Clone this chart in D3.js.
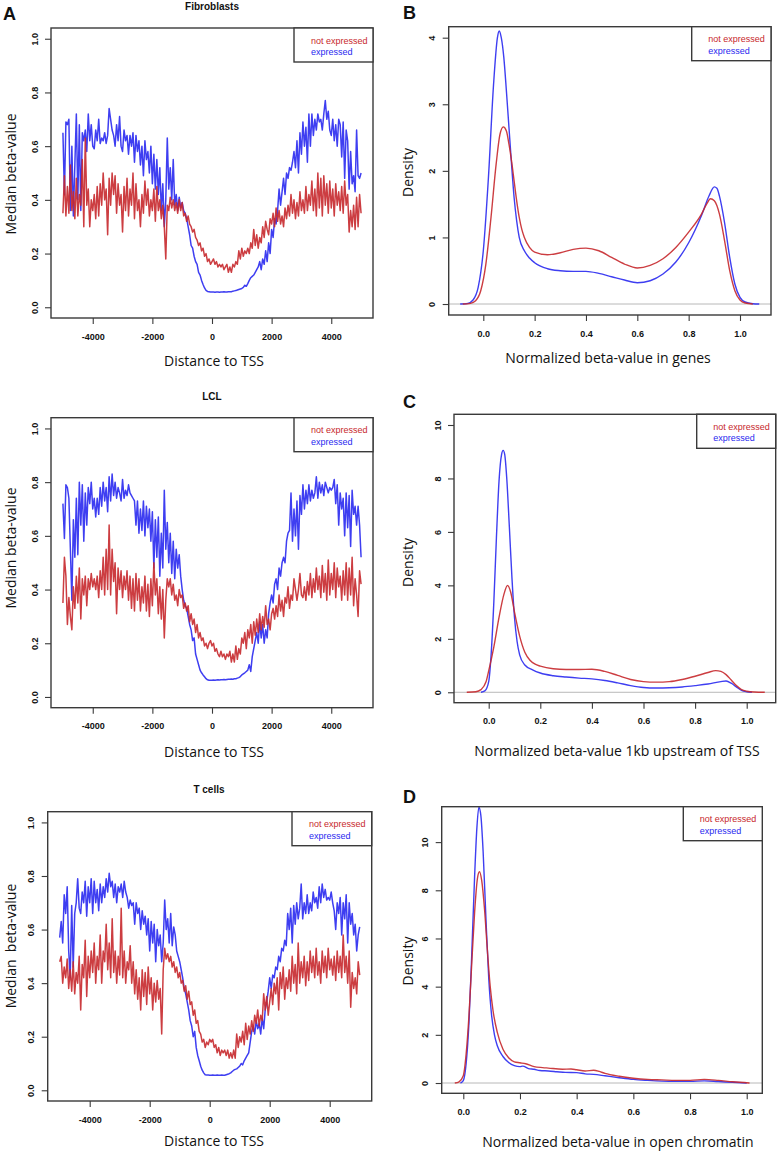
<!DOCTYPE html>
<html><head><meta charset="utf-8">
<script src="https://cdn.jsdelivr.net/npm/d3@7"></script>
<style>body{margin:0;background:#fff}svg{display:block}</style>
</head><body>
<svg id="c" width="778" height="1151"></svg>
<script>
// ---------- DATA ----------
const tssPositions = d3.range(-5000, 5001, 50);

const fibExpressed = [
0.65,0.42,0.69,0.68,0.70,0.36,0.60,0.34,0.53,0.72,
0.40,0.68,0.36,0.65,0.62,0.66,0.58,0.72,0.62,0.68,
0.60,0.59,0.66,0.62,0.70,0.61,0.63,0.62,0.65,0.61,
0.64,0.74,0.70,0.66,0.64,0.60,0.68,0.62,0.71,0.60,
0.58,0.66,0.62,0.64,0.57,0.64,0.60,0.65,0.54,0.64,
0.58,0.62,0.53,0.60,0.49,0.62,0.55,0.58,0.50,0.60,
0.46,0.57,0.44,0.55,0.42,0.52,0.36,0.46,0.30,0.40,
0.63,0.44,0.52,0.40,0.55,0.38,0.42,0.36,0.41,0.37,
0.39,0.36,0.35,0.33,0.30,0.27,0.23,0.22,0.19,0.17,
0.16,0.13,0.12,0.10,0.085,0.072,0.063,0.059,0.058,0.057,
0.057,0.057,0.056,0.057,0.057,0.056,0.057,0.057,0.058,0.057,
0.057,0.058,0.058,0.058,0.060,0.061,0.062,0.064,0.066,0.068,
0.070,0.074,0.082,0.078,0.088,0.10,0.11,0.115,0.12,0.13,
0.14,0.15,0.17,0.14,0.18,0.16,0.21,0.17,0.24,0.20,
0.29,0.26,0.33,0.31,0.36,0.44,0.38,0.43,0.48,0.42,
0.50,0.48,0.52,0.51,0.54,0.58,0.52,0.62,0.50,0.65,
0.57,0.69,0.60,0.67,0.54,0.72,0.60,0.72,0.64,0.70,
0.66,0.72,0.69,0.70,0.66,0.72,0.77,0.70,0.73,0.66,
0.64,0.70,0.62,0.68,0.60,0.70,0.68,0.56,0.69,0.48,
0.66,0.62,0.44,0.58,0.46,0.49,0.43,0.66,0.49,0.48,
0.50];
const fibNotExpressed = [
0.35,0.49,0.34,0.45,0.35,0.53,0.36,0.43,0.33,0.48,
0.34,0.42,0.38,0.55,0.30,0.63,0.38,0.44,0.30,0.40,
0.36,0.42,0.33,0.45,0.34,0.46,0.38,0.50,0.40,0.44,
0.27,0.48,0.38,0.50,0.42,0.49,0.35,0.46,0.38,0.42,
0.28,0.45,0.36,0.48,0.34,0.44,0.38,0.50,0.33,0.46,
0.36,0.40,0.30,0.42,0.35,0.47,0.38,0.44,0.34,0.40,
0.36,0.44,0.32,0.45,0.36,0.40,0.33,0.38,0.30,0.18,
0.38,0.36,0.41,0.37,0.40,0.36,0.39,0.35,0.40,0.36,
0.39,0.34,0.35,0.32,0.34,0.31,0.30,0.28,0.29,0.26,
0.25,0.23,0.24,0.21,0.22,0.19,0.20,0.17,0.18,0.16,
0.17,0.18,0.16,0.17,0.15,0.16,0.15,0.16,0.14,0.15,
0.16,0.13,0.15,0.13,0.16,0.15,0.17,0.16,0.21,0.18,
0.22,0.19,0.21,0.20,0.22,0.20,0.24,0.22,0.29,0.23,
0.27,0.22,0.26,0.24,0.30,0.26,0.32,0.29,0.27,0.33,
0.31,0.35,0.30,0.37,0.32,0.36,0.31,0.34,0.30,0.37,
0.33,0.38,0.34,0.42,0.35,0.40,0.33,0.39,0.34,0.43,
0.36,0.40,0.35,0.45,0.36,0.42,0.38,0.47,0.36,0.44,
0.34,0.50,0.37,0.48,0.34,0.49,0.38,0.46,0.35,0.47,
0.37,0.44,0.34,0.46,0.38,0.43,0.36,0.45,0.35,0.47,
0.38,0.42,0.28,0.36,0.30,0.38,0.29,0.41,0.30,0.42,
0.35];
const lclExpressed = [
0.72,0.59,0.79,0.78,0.74,0.55,0.36,0.66,0.52,0.74,
0.53,0.80,0.64,0.79,0.58,0.76,0.64,0.78,0.72,0.80,
0.70,0.74,0.67,0.74,0.68,0.78,0.71,0.80,0.73,0.78,
0.69,0.82,0.73,0.83,0.75,0.80,0.74,0.78,0.76,0.73,
0.81,0.74,0.77,0.75,0.79,0.76,0.75,0.74,0.73,0.64,
0.73,0.61,0.70,0.62,0.73,0.60,0.71,0.63,0.70,0.58,
0.69,0.48,0.66,0.52,0.67,0.45,0.61,0.48,0.77,0.55,
0.65,0.50,0.61,0.46,0.58,0.44,0.55,0.48,0.53,0.45,
0.40,0.36,0.34,0.33,0.30,0.27,0.25,0.21,0.22,0.16,
0.14,0.12,0.10,0.09,0.082,0.075,0.068,0.064,0.062,0.062,
0.062,0.063,0.062,0.063,0.064,0.063,0.064,0.064,0.065,0.064,
0.065,0.066,0.066,0.067,0.066,0.068,0.068,0.070,0.072,0.076,
0.082,0.086,0.090,0.095,0.10,0.12,0.095,0.15,0.18,0.21,
0.24,0.20,0.28,0.22,0.27,0.20,0.25,0.22,0.31,0.35,
0.38,0.35,0.42,0.44,0.40,0.48,0.45,0.50,0.52,0.50,
0.58,0.61,0.62,0.76,0.58,0.70,0.60,0.73,0.55,0.75,
0.68,0.79,0.70,0.77,0.72,0.79,0.73,0.77,0.74,0.76,
0.82,0.74,0.80,0.76,0.79,0.75,0.80,0.78,0.76,0.78,
0.77,0.78,0.81,0.72,0.79,0.64,0.76,0.70,0.74,0.60,
0.76,0.63,0.75,0.56,0.77,0.68,0.71,0.64,0.71,0.64,
0.52];
const lclNotExpressed = [
0.35,0.52,0.45,0.27,0.37,0.30,0.25,0.41,0.33,0.45,
0.35,0.48,0.29,0.44,0.38,0.45,0.34,0.44,0.40,0.46,
0.41,0.44,0.40,0.45,0.37,0.47,0.40,0.52,0.38,0.55,
0.40,0.64,0.38,0.55,0.43,0.50,0.31,0.48,0.40,0.47,
0.37,0.45,0.40,0.47,0.36,0.45,0.33,0.44,0.32,0.46,
0.36,0.44,0.32,0.41,0.35,0.45,0.32,0.42,0.30,0.44,
0.34,0.50,0.38,0.44,0.31,0.41,0.29,0.40,0.22,0.36,
0.44,0.41,0.44,0.38,0.42,0.36,0.38,0.34,0.40,0.37,
0.38,0.33,0.35,0.32,0.34,0.28,0.31,0.27,0.29,0.24,
0.27,0.22,0.24,0.21,0.22,0.19,0.20,0.18,0.20,0.21,
0.19,0.20,0.17,0.18,0.16,0.15,0.17,0.15,0.16,0.14,
0.16,0.15,0.17,0.13,0.16,0.13,0.19,0.14,0.18,0.16,
0.22,0.20,0.24,0.18,0.25,0.22,0.27,0.20,0.28,0.23,
0.29,0.24,0.31,0.25,0.30,0.26,0.34,0.27,0.29,0.25,
0.31,0.33,0.29,0.34,0.30,0.38,0.32,0.36,0.30,0.37,
0.35,0.41,0.33,0.38,0.36,0.44,0.40,0.36,0.40,0.46,
0.38,0.37,0.41,0.36,0.43,0.38,0.46,0.37,0.44,0.39,
0.48,0.40,0.45,0.37,0.49,0.39,0.46,0.36,0.51,0.38,
0.46,0.40,0.50,0.37,0.48,0.41,0.45,0.36,0.47,0.38,
0.50,0.36,0.48,0.38,0.52,0.34,0.44,0.38,0.30,0.47,
0.42];
const tcellExpressed = [
0.57,0.63,0.55,0.73,0.66,0.76,0.52,0.42,0.69,0.46,
0.66,0.70,0.79,0.68,0.66,0.74,0.70,0.78,0.65,0.76,
0.70,0.79,0.66,0.78,0.70,0.75,0.67,0.77,0.70,0.76,
0.72,0.79,0.74,0.81,0.76,0.78,0.72,0.77,0.70,0.76,
0.74,0.77,0.72,0.78,0.74,0.72,0.68,0.71,0.69,0.70,
0.62,0.70,0.66,0.68,0.60,0.67,0.62,0.65,0.58,0.64,
0.52,0.63,0.55,0.62,0.48,0.60,0.54,0.58,0.48,0.55,
0.71,0.60,0.64,0.55,0.66,0.54,0.61,0.58,0.52,0.50,
0.48,0.45,0.42,0.38,0.36,0.33,0.30,0.26,0.24,0.20,
0.22,0.16,0.13,0.11,0.09,0.075,0.065,0.058,0.057,0.057,
0.056,0.056,0.057,0.056,0.056,0.057,0.056,0.056,0.057,0.056,
0.056,0.058,0.060,0.062,0.065,0.070,0.075,0.078,0.080,0.085,
0.090,0.10,0.095,0.11,0.12,0.13,0.14,0.18,0.22,0.24,
0.21,0.26,0.23,0.25,0.21,0.27,0.23,0.30,0.33,0.37,
0.42,0.38,0.43,0.42,0.46,0.45,0.50,0.48,0.53,0.52,
0.56,0.54,0.66,0.60,0.68,0.55,0.69,0.62,0.70,0.64,
0.68,0.77,0.64,0.70,0.66,0.73,0.66,0.70,0.67,0.74,
0.70,0.72,0.68,0.76,0.70,0.77,0.72,0.75,0.71,0.72,
0.71,0.74,0.70,0.67,0.60,0.70,0.66,0.72,0.58,0.70,
0.64,0.73,0.55,0.70,0.62,0.66,0.58,0.62,0.52,0.58,
0.61];
const tcellNotExpressed = [
0.48,0.50,0.40,0.46,0.42,0.49,0.38,0.45,0.37,0.48,
0.36,0.44,0.40,0.50,0.30,0.47,0.42,0.56,0.35,0.50,
0.42,0.52,0.44,0.55,0.40,0.50,0.45,0.58,0.40,0.52,
0.48,0.62,0.45,0.55,0.42,0.64,0.44,0.52,0.40,0.50,
0.43,0.68,0.42,0.52,0.40,0.48,0.45,0.54,0.40,0.48,
0.36,0.45,0.34,0.42,0.30,0.45,0.35,0.44,0.32,0.46,
0.36,0.42,0.30,0.40,0.33,0.41,0.34,0.38,0.21,0.45,
0.53,0.49,0.51,0.48,0.50,0.46,0.48,0.44,0.46,0.42,
0.44,0.40,0.41,0.37,0.39,0.34,0.37,0.32,0.33,0.28,
0.30,0.25,0.26,0.22,0.21,0.18,0.19,0.16,0.18,0.17,
0.19,0.18,0.19,0.16,0.17,0.14,0.16,0.13,0.15,0.14,
0.15,0.13,0.15,0.12,0.14,0.12,0.15,0.12,0.21,0.16,
0.20,0.18,0.22,0.17,0.25,0.19,0.24,0.21,0.26,0.22,
0.28,0.25,0.30,0.24,0.28,0.26,0.36,0.30,0.35,0.28,
0.33,0.38,0.32,0.40,0.36,0.42,0.30,0.44,0.38,0.46,
0.34,0.42,0.38,0.45,0.37,0.50,0.40,0.47,0.36,0.55,
0.40,0.48,0.42,0.50,0.39,0.48,0.41,0.52,0.44,0.50,
0.42,0.53,0.43,0.48,0.40,0.52,0.44,0.50,0.42,0.53,
0.45,0.49,0.43,0.50,0.41,0.52,0.44,0.50,0.42,0.58,
0.44,0.50,0.40,0.52,0.31,0.44,0.38,0.42,0.36,0.48,
0.43];

// density curves: [beta value, density]
const genesExpressed = [[-0.09,0],[-0.06,0.01],[-0.04,0.06],[-0.02,0.25],[0,0.8],[0.02,1.9],[0.04,3.3],[0.055,4.0],[0.062,4.1],[0.07,4.0],[0.08,3.7],[0.09,3.2],[0.1,2.65],[0.11,2.1],[0.12,1.6],[0.13,1.25],[0.14,1.0],[0.16,0.8],[0.18,0.69],[0.2,0.62],[0.25,0.53],[0.3,0.5],[0.35,0.49],[0.4,0.49],[0.45,0.46],[0.5,0.41],[0.55,0.36],[0.6,0.32],[0.65,0.35],[0.7,0.45],[0.75,0.63],[0.8,0.92],[0.85,1.33],[0.88,1.63],[0.9,1.76],[0.91,1.74],[0.92,1.62],[0.94,1.22],[0.96,0.7],[0.98,0.3],[1.0,0.1],[1.02,0.03],[1.05,0.005],[1.075,0]];
const genesNotExpressed = [[-0.08,0],[-0.05,0.01],[-0.03,0.05],[-0.01,0.2],[0.01,0.6],[0.03,1.3],[0.05,2.1],[0.065,2.55],[0.078,2.66],[0.09,2.6],[0.1,2.4],[0.11,2.15],[0.12,1.85],[0.13,1.55],[0.14,1.3],[0.15,1.12],[0.16,1.0],[0.18,0.85],[0.2,0.78],[0.25,0.74],[0.3,0.77],[0.35,0.82],[0.4,0.84],[0.45,0.8],[0.5,0.7],[0.55,0.6],[0.6,0.54],[0.65,0.58],[0.7,0.68],[0.75,0.85],[0.8,1.08],[0.85,1.35],[0.87,1.5],[0.885,1.58],[0.9,1.55],[0.92,1.35],[0.94,0.95],[0.96,0.5],[0.98,0.2],[1.0,0.06],[1.02,0.015],[1.05,0]];
const upstreamExpressed = [[-0.03,0],[-0.015,0.05],[0,0.4],[0.01,1.5],[0.02,3.4],[0.03,5.8],[0.04,7.9],[0.05,8.9],[0.056,9.05],[0.062,8.9],[0.07,8.0],[0.08,6.2],[0.09,4.3],[0.1,2.8],[0.11,1.9],[0.12,1.4],[0.14,1.02],[0.17,0.84],[0.2,0.72],[0.25,0.62],[0.3,0.57],[0.35,0.53],[0.4,0.5],[0.45,0.44],[0.5,0.35],[0.55,0.25],[0.6,0.18],[0.65,0.16],[0.7,0.17],[0.75,0.2],[0.8,0.25],[0.85,0.31],[0.9,0.4],[0.92,0.42],[0.94,0.34],[0.96,0.2],[0.98,0.07],[1.0,0.02],[1.02,0]];
const upstreamNotExpressed = [[-0.085,0],[-0.05,0.02],[-0.03,0.1],[-0.01,0.4],[0,0.8],[0.02,1.7],[0.04,2.8],[0.06,3.7],[0.073,4.0],[0.085,3.75],[0.1,3.0],[0.12,2.1],[0.14,1.5],[0.16,1.2],[0.18,1.05],[0.2,0.98],[0.25,0.88],[0.3,0.85],[0.35,0.85],[0.4,0.86],[0.45,0.78],[0.5,0.63],[0.55,0.48],[0.6,0.4],[0.65,0.38],[0.7,0.4],[0.75,0.48],[0.8,0.6],[0.85,0.74],[0.88,0.81],[0.9,0.78],[0.92,0.66],[0.94,0.46],[0.96,0.25],[0.98,0.1],[1.0,0.04],[1.03,0.01],[1.07,0]];
const openExpressed = [[-0.01,0],[0,0.1],[0.01,0.8],[0.02,2.5],[0.03,5.4],[0.04,8.6],[0.048,10.6],[0.055,11.45],[0.062,11.1],[0.07,9.6],[0.08,6.8],[0.09,4.3],[0.1,2.8],[0.11,2.0],[0.12,1.55],[0.14,1.1],[0.16,0.85],[0.18,0.72],[0.2,0.68],[0.21,0.7],[0.23,0.6],[0.25,0.57],[0.27,0.52],[0.3,0.5],[0.33,0.47],[0.36,0.44],[0.4,0.43],[0.43,0.38],[0.46,0.36],[0.5,0.3],[0.55,0.22],[0.6,0.15],[0.65,0.11],[0.7,0.08],[0.75,0.07],[0.8,0.07],[0.85,0.09],[0.9,0.06],[0.95,0.03],[1.0,0]];
const openNotExpressed = [[-0.03,0],[-0.015,0.05],[0,0.3],[0.01,1.2],[0.02,2.8],[0.03,5.0],[0.04,7.1],[0.05,8.5],[0.057,8.77],[0.065,8.4],[0.075,7.2],[0.085,5.5],[0.095,4.0],[0.105,3.0],[0.12,2.1],[0.14,1.4],[0.16,1.05],[0.18,0.88],[0.2,0.84],[0.22,0.8],[0.25,0.68],[0.28,0.64],[0.3,0.62],[0.35,0.57],[0.38,0.58],[0.4,0.55],[0.43,0.5],[0.46,0.53],[0.48,0.48],[0.5,0.4],[0.55,0.28],[0.6,0.2],[0.65,0.15],[0.7,0.13],[0.75,0.11],[0.8,0.11],[0.85,0.15],[0.9,0.11],[0.95,0.05],[1.01,0]];

const tssTicks = [-4000,-2000,0,2000,4000];
const betaTicks = [0,0.2,0.4,0.6,0.8,1.0];
const densityXTicks = [0,0.2,0.4,0.6,0.8,1.0];
const genesYTicks = [0,1,2,3,4];
const upstreamYTicks = [0,2,4,6,8,10];
const openYTicks = [0,2,4,6,8,10];
const legendLabels = ["not expressed","expressed"];
const panelTitles = ["Fibroblasts","LCL","T cells"];
const panelLetters = ["A","B","C","D"];

// ---------- STYLE / LAYOUT ----------
const RED = "#c7282c", BLUE = "#2929ef";
const TICKFONT = "'Liberation Sans', Arial, sans-serif";
const LABFONT = "'Open Sans', 'Noto Sans', sans-serif";
const svg = d3.select("#c");

function drawPanel(cfg, idx){
  const b = cfg.box;
  const g = svg.append("g");
  const x = d3.scaleLinear().domain(cfg.xDomain).range([b.l, b.r]);
  const y = d3.scaleLinear().domain(cfg.yDomain).range([b.b, b.t]);
  const cid = "clip" + idx;
  svg.append("clipPath").attr("id", cid).append("rect")
    .attr("x", b.l).attr("y", b.t).attr("width", b.r - b.l).attr("height", b.b - b.t);
  const plot = g.append("g").attr("clip-path", `url(#${cid})`);
  if (cfg.zeroLine) {
    plot.append("line").attr("x1", b.l).attr("x2", b.r)
      .attr("y1", y(0)).attr("y2", y(0)).attr("stroke", "#b8b8b8").attr("stroke-width", 1);
  }
  cfg.series.forEach(s => {
    const line = d3.line().x(d => x(d[0])).y(d => y(d[1]));
    if (cfg.smooth) line.curve(d3.curveMonotoneX);
    plot.append("path").datum(s.data).attr("d", line)
      .attr("fill", "none").attr("stroke", s.color)
      .attr("stroke-width", cfg.lw).attr("stroke-opacity", 0.9)
      .attr("stroke-linejoin", "round");
  });
  // frame
  g.append("rect").attr("x", b.l).attr("y", b.t).attr("width", b.r - b.l).attr("height", b.b - b.t)
    .attr("fill", "none").attr("stroke", "#3a3a3a").attr("stroke-width", 1.4);
  // axes
  const ax = g.append("g").attr("transform", `translate(0,${b.b})`)
    .call(d3.axisBottom(x).tickValues(cfg.xTicks).tickSize(6).tickFormat(cfg.xFmt));
  ax.select(".domain").remove();
  ax.selectAll(".tick line").attr("stroke", "#3a3a3a").attr("stroke-width", 1.1);
  ax.selectAll(".tick text").attr("y", 21.5).attr("dy", null)
    .attr("font-family", TICKFONT).attr("font-size", 9).attr("font-weight", "bold").attr("fill", "#111");
  const ay = g.append("g").attr("transform", `translate(${b.l},0)`)
    .call(d3.axisLeft(y).tickValues(cfg.yTicks).tickSize(6).tickFormat(cfg.yFmt));
  ay.select(".domain").remove();
  ay.selectAll(".tick line").attr("stroke", "#3a3a3a").attr("stroke-width", 1.1);
  ay.selectAll(".tick text").attr("x", 0).attr("y", -13.3).attr("dy", null)
    .attr("text-anchor", "middle").attr("transform", "rotate(-90)")
    .attr("font-family", TICKFONT).attr("font-size", 9).attr("font-weight", "bold").attr("fill", "#111");
  // legend
  const lg = cfg.legend;
  g.append("rect").attr("x", lg.x).attr("y", b.t).attr("width", b.r - lg.x).attr("height", 34)
    .attr("fill", "#fff").attr("stroke", "#3a3a3a").attr("stroke-width", 1.4);
  legendLabels.forEach((t, i) => {
    g.append("text").attr("x", lg.x + lg.dx).attr("y", b.t + 15.5 + i * 11.3)
      .attr("font-family", TICKFONT).attr("font-size", 9).attr("font-weight", 500)
      .attr("fill", i === 0 ? RED : BLUE).text(t);
  });
  // axis titles
  g.append("text").attr("transform", `translate(${cfg.yLab.x},${cfg.yLab.y}) rotate(-90)`)
    .attr("text-anchor", "middle").attr("font-family", LABFONT).attr("font-size", 14)
    .attr("fill", "#111").style("white-space", "pre").text(cfg.yLab.text);
  g.append("text").attr("x", cfg.xLab.x).attr("y", cfg.xLab.y)
    .attr("text-anchor", "middle").attr("font-family", LABFONT).attr("font-size", 14)
    .attr("fill", "#111").text(cfg.xLab.text);
  if (cfg.title) {
    g.append("text").attr("x", cfg.title.x).attr("y", cfg.title.y).attr("text-anchor", "middle")
      .attr("font-family", TICKFONT).attr("font-size", 10).attr("font-weight", "bold")
      .attr("fill", "#111").text(cfg.title.text);
  }
  if (cfg.letter) {
    g.append("text").attr("x", cfg.letter.x).attr("y", cfg.letter.y)
      .attr("font-family", TICKFONT).attr("font-size", 18).attr("font-weight", "bold")
      .attr("fill", "#111").text(cfg.letter.text);
  }
}

const zip = (xs, ys) => xs.map((v, i) => [v, ys[i]]);
const f1 = d3.format(".1f");
const tssFmt = d => String(d);
const intFmt = d => String(d);

const panels = [
  { box:{l:51,r:373,t:28,b:318}, xDomain:[-5400,5400], yDomain:[-0.04,1.04], lw:1.5,
    xTicks:tssTicks, yTicks:betaTicks, xFmt:tssFmt, yFmt:f1,
    series:[{data:zip(tssPositions,fibExpressed),color:BLUE},{data:zip(tssPositions,fibNotExpressed),color:RED}],
    legend:{x:294,dx:17}, yLab:{x:15.5,y:174,text:"Median beta-value"}, xLab:{x:214,y:366,text:"Distance to TSS"},
    title:{x:212,y:10,text:panelTitles[0]}, letter:{x:3,y:20,text:panelLetters[0]} },
  { box:{l:51,r:373,t:417.7,b:707.7}, xDomain:[-5400,5400], yDomain:[-0.04,1.04], lw:1.5,
    xTicks:tssTicks, yTicks:betaTicks, xFmt:tssFmt, yFmt:f1,
    series:[{data:zip(tssPositions,lclExpressed),color:BLUE},{data:zip(tssPositions,lclNotExpressed),color:RED}],
    legend:{x:294,dx:17}, yLab:{x:15.5,y:548,text:"Median beta-value"}, xLab:{x:214,y:757,text:"Distance to TSS"},
    title:{x:212,y:400,text:panelTitles[1]} },
  { box:{l:47.7,r:371.7,t:811.7,b:1101}, xDomain:[-5400,5400], yDomain:[-0.04,1.04], lw:1.5,
    xTicks:tssTicks, yTicks:betaTicks, xFmt:tssFmt, yFmt:f1,
    series:[{data:zip(tssPositions,tcellExpressed),color:BLUE},{data:zip(tssPositions,tcellNotExpressed),color:RED}],
    legend:{x:292,dx:17}, yLab:{x:15.5,y:946,text:"Median  beta-value"}, xLab:{x:214,y:1146,text:"Distance to TSS"},
    title:{x:209,y:793,text:panelTitles[2]} },
  { box:{l:448.7,r:771,t:26.7,b:315}, xDomain:[-0.1348,1.1208], yDomain:[-0.165,4.165], lw:1.4, smooth:true, zeroLine:true,
    xTicks:densityXTicks, yTicks:genesYTicks, xFmt:f1, yFmt:intFmt,
    series:[{data:genesExpressed,color:BLUE},{data:genesNotExpressed,color:RED}],
    legend:{x:691.7,dx:16.5}, yLab:{x:412.5,y:172.5,text:"Density"}, xLab:{x:608,y:362.7,text:"Normalized beta-value in genes"},
    letter:{x:403,y:19.3,text:panelLetters[1]} },
  { box:{l:454,r:775.7,t:414.3,b:702.7}, xDomain:[-0.1345,1.1124], yDomain:[-0.390,10.4], lw:1.4, smooth:true, zeroLine:true,
    xTicks:densityXTicks, yTicks:upstreamYTicks, xFmt:f1, yFmt:intFmt,
    series:[{data:upstreamExpressed,color:BLUE},{data:upstreamNotExpressed,color:RED}],
    legend:{x:696.7,dx:16.5}, yLab:{x:412.5,y:562.5,text:"Density"}, xLab:{x:617,y:756,text:"Normalized beta-value 1kb upstream of TSS"},
    letter:{x:403,y:408,text:panelLetters[2]} },
  { box:{l:441.7,r:762.3,t:806.7,b:1093.3}, xDomain:[-0.0762,1.0550], yDomain:[-0.427,11.47], lw:1.4, smooth:true, zeroLine:true,
    xTicks:densityXTicks, yTicks:openYTicks, xFmt:f1, yFmt:intFmt,
    series:[{data:openExpressed,color:BLUE},{data:openNotExpressed,color:RED}],
    legend:{x:683.3,dx:16.5}, yLab:{x:412.5,y:961,text:"Density"}, xLab:{x:618,y:1146.5,text:"Normalized beta-value in open chromatin"},
    letter:{x:403,y:803,text:panelLetters[3]} }
];

panels.forEach(drawPanel);
</script>
</body></html>
